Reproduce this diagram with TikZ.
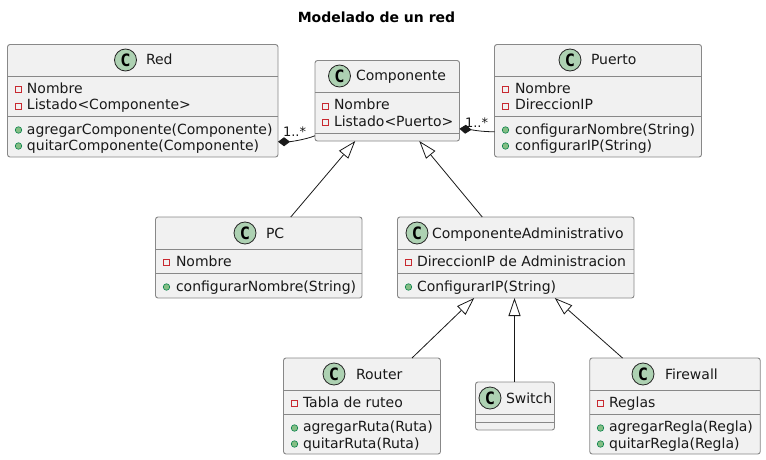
\documentclass[tikz,border=0pt]{standalone}
\usepackage{fontspec}
\setmainfont{DejaVu Sans}
\newfontfamily\iconfont{DejaVu Sans Mono}
\usetikzlibrary{arrows.meta}
\definecolor{boxfill}{HTML}{F1F1F1}
\definecolor{boxline}{HTML}{888888}
\definecolor{iconfill}{HTML}{ADD1B2}
\definecolor{privline}{HTML}{C82930}
\definecolor{pubfill}{HTML}{84BE84}
\definecolor{publine}{HTML}{038048}
\tikzset{
	classbox/.style={draw=boxline, fill=boxfill, line width=0.9pt, rounded corners=2.5pt, inner sep=0, outer sep=0},
	sepline/.style={draw=boxline, line width=0.9pt},
	classicon/.style={circle, draw=black!85, fill=iconfill, line width=0.8pt, minimum size=22pt, inner sep=0, font=\iconfont\fontsize{17}{17}\selectfont\bfseries, text=black},
	txt/.style={anchor=base west, inner sep=0, outer sep=0, font=\fontsize{14}{16}\selectfont, text=black!90},
	mult/.style={anchor=base west, inner sep=0, outer sep=0, font=\fontsize{13}{15}\selectfont, text=black!90},
	privmark/.style={rectangle, draw=privline, line width=0.8pt, minimum size=6pt, inner sep=0},
	pubmark/.style={circle, draw=publine, fill=pubfill, line width=0.6pt, minimum size=6.5pt, inner sep=0},
	inherit/.style={-{Triangle[open, length=18pt, width=12pt, fill=white]}, line width=0.8pt, black!90},
	compose/.style={-{Diamond[length=12pt, width=9pt]}, line width=0.8pt, black!90},
}
\begin{document}
\begin{tikzpicture}[x=1pt, y=-1pt]
	\useasboundingbox (0,0) rectangle (766,460);
	\node[anchor=base, inner sep=0, font=\fontsize{14}{16}\selectfont\bfseries](title) at (376.5,23) {Modelado de un red};

	% top row
	\node[classbox, minimum width=270.5pt, minimum height=112.5pt](red) at (142.75,100.75) {};
	\draw[sepline] ([yshift=-31.5pt]red.north west) -- ([yshift=-31.5pt]red.north east);
	\draw[sepline] ([yshift=-72pt]red.north west) -- ([yshift=-72pt]red.north east);
	\node[classicon](redicon) at (125.5,60) {C};\node[txt](redname) at (146,65) {Red};
	\node[privmark](redm1) at (18.5,89) {};\node[txt](redt1) at (27,93) {Nombre};
	\node[privmark](redm2) at (18.5,106) {};\node[txt](redt2) at (27,110) {Listado<Componente>};
	\node[pubmark](redm3) at (18.5,130) {};\node[txt](redt3) at (27,134) {agregarComponente(Componente)};
	\node[pubmark](redm4) at (18.5,146) {};\node[txt](redt4) at (27,150) {quitarComponente(Componente)};

	\node[classbox, minimum width=144.5pt, minimum height=80.5pt](comp) at (387.25,100.75) {};
	\draw[sepline] ([yshift=-31.5pt]comp.north west) -- ([yshift=-31.5pt]comp.north east);
	\draw[sepline] ([yshift=-72.5pt]comp.north west) -- ([yshift=-72.5pt]comp.north east);
	\node[classicon](compicon) at (339.5,76) {C};\node[txt](compname) at (356,81) {Componente};
	\node[privmark](compm1) at (325.5,106) {};\node[txt](compt1) at (334,110) {Nombre};
	\node[privmark](compm2) at (325.5,122) {};\node[txt](compt2) at (334,126) {Listado<Puerto>};

	\node[classbox, minimum width=207pt, minimum height=112.5pt](puerto) at (598,100.75) {};
	\draw[sepline] ([yshift=-31.5pt]puerto.north west) -- ([yshift=-31.5pt]puerto.north east);
	\draw[sepline] ([yshift=-72pt]puerto.north west) -- ([yshift=-72pt]puerto.north east);
	\node[classicon](puertoicon) at (570,60) {C};\node[txt](puertoname) at (591,65) {Puerto};
	\node[privmark](puertom1) at (505.5,89) {};\node[txt](puertot1) at (515,93) {Nombre};
	\node[privmark](puertom2) at (505.5,106) {};\node[txt](puertot2) at (515,110) {DireccionIP};
	\node[pubmark](puertom3) at (505.5,130) {};\node[txt](puertot3) at (515,134) {configurarNombre(String)};
	\node[pubmark](puertom4) at (505.5,146) {};\node[txt](puertot4) at (515,150) {configurarIP(String)};

	% middle row
	\node[classbox, minimum width=206.5pt, minimum height=81pt](pc) at (258.75,257.5) {};
	\draw[sepline] ([yshift=-32pt]pc.north west) -- ([yshift=-32pt]pc.north east);
	\draw[sepline] ([yshift=-56pt]pc.north west) -- ([yshift=-56pt]pc.north east);
	\node[classicon](pcicon) at (245,233) {C};\node[txt](pcname) at (266,238) {PC};
	\node[privmark](pcm1) at (166.5,262) {};\node[txt](pct1) at (176,266) {Nombre};
	\node[pubmark](pcm2) at (166.5,287) {};\node[txt](pct2) at (176,291) {configurarNombre(String)};

	\node[classbox, minimum width=236.5pt, minimum height=81pt](admin) at (515.75,257.5) {};
	\draw[sepline] ([yshift=-32pt]admin.north west) -- ([yshift=-32pt]admin.north east);
	\draw[sepline] ([yshift=-56pt]admin.north west) -- ([yshift=-56pt]admin.north east);
	\node[classicon](adminicon) at (417,233) {C};\node[txt](adminname) at (432,238) {ComponenteAdministrativo};
	\node[privmark](adminm1) at (408.5,262) {};\node[txt](admint1) at (417,266) {DireccionIP de Administracion};
	\node[pubmark](adminm2) at (408.5,287) {};\node[txt](admint2) at (417,291) {ConfigurarIP(String)};

	% bottom row
	\node[classbox, minimum width=157pt, minimum height=96pt](router) at (362,406) {};
	\draw[sepline] ([yshift=-32pt]router.north west) -- ([yshift=-32pt]router.north east);
	\draw[sepline] ([yshift=-56pt]router.north west) -- ([yshift=-56pt]router.north east);
	\node[classicon](routericon) at (334,374) {C};\node[txt](routername) at (356,379) {Router};
	\node[privmark](routerm1) at (294.5,403) {};\node[txt](routert1) at (303,407) {Tabla de ruteo};
	\node[pubmark](routerm2) at (294.5,428) {};\node[txt](routert2) at (303,431) {agregarRuta(Ruta)};
	\node[pubmark](routerm3) at (294.5,444) {};\node[txt](routert3) at (303,448) {quitarRuta(Ruta)};

	\node[classbox, minimum width=79pt, minimum height=48pt](switch) at (515,406) {};
	\draw[sepline] ([yshift=-32pt]switch.north west) -- ([yshift=-32pt]switch.north east);
	\draw[sepline] ([yshift=-40pt]switch.north west) -- ([yshift=-40pt]switch.north east);
	\node[classicon](switchicon) at (490,398) {C};\node[txt](switchname) at (506,403) {Switch};

	\node[classbox, minimum width=170.5pt, minimum height=96pt](firewall) at (675,406) {};
	\draw[sepline] ([yshift=-32pt]firewall.north west) -- ([yshift=-32pt]firewall.north east);
	\draw[sepline] ([yshift=-56pt]firewall.north west) -- ([yshift=-56pt]firewall.north east);
	\node[classicon](firewallicon) at (643,374) {C};\node[txt](firewallname) at (665,379) {Firewall};
	\node[privmark](firewallm1) at (600.5,403) {};\node[txt](firewallt1) at (609,407) {Reglas};
	\node[pubmark](firewallm2) at (600.5,428) {};\node[txt](firewallt2) at (609,431) {agregarRegla(Regla)};
	\node[pubmark](firewallm3) at (600.5,444) {};\node[txt](firewallt3) at (609,448) {quitarRegla(Regla)};

	% links
	\draw[inherit]([xshift=32pt]pc.north) -- ([xshift=-32pt]comp.south);
	\draw[inherit]([xshift=-33.5pt]admin.north) -- ([xshift=32pt]comp.south);
	\draw[inherit]([xshift=50pt]router.north) -- ([xshift=-41.5pt]admin.south);
	\draw[inherit]([xshift=-0.5pt]switch.north) -- ([xshift=-1.25pt]admin.south);
	\draw[inherit]([xshift=-52.5pt]firewall.north) -- ([xshift=39pt]admin.south);
	\draw[compose]([yshift=-35pt]comp.west) .. controls +(-10,4) and +(12,0) .. ([yshift=-41pt]red.east);
	\draw[compose]([yshift=-31pt]puerto.west) .. controls +(-14,0) and +(12,1) .. ([yshift=-28pt]comp.east);
	\node[mult](redmult) at (283,136) {1..*};
	\node[mult](puertomult) at (465,127) {1..*};
\end{tikzpicture}
\end{document}
